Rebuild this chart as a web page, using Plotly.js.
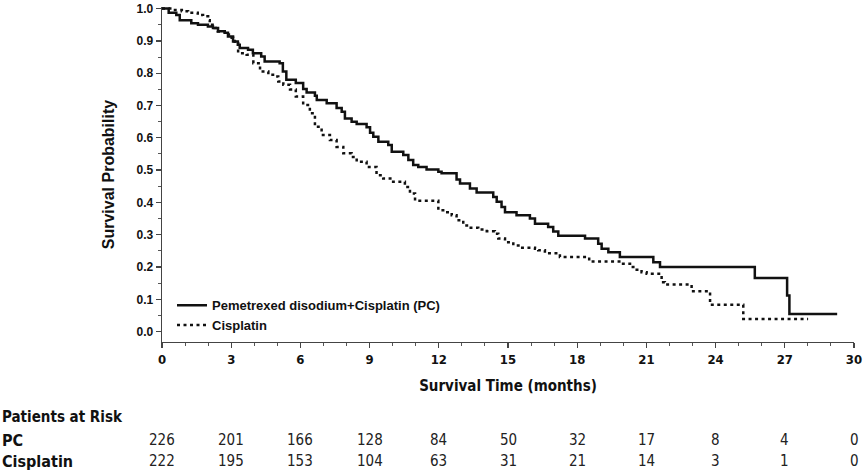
<!DOCTYPE html>
<html>
<head>
<meta charset="utf-8">
<script src="https://cdn.plot.ly/plotly-3.0.1.min.js"></script>
<style>
  html, body { margin: 0; padding: 0; background: #fff; }
  #chart { width: 865px; height: 472px; }
</style>
</head>
<body>
<div id="chart"></div>
<script>
// Kaplan-Meier step points (time in months, survival after the step)
const pcTime = [0, 0.29, 0.62, 0.77, 1.27, 1.56, 1.99, 2.21, 2.43, 2.72, 2.86, 3.08, 3.29, 3.37, 3.73, 3.94, 4.30, 4.45, 5.10, 5.24, 5.39, 5.80, 6.12, 6.27, 6.63, 6.71, 7.14, 7.57, 7.79, 7.93, 8.22, 8.44, 8.87, 9.02, 9.16, 9.38, 9.81, 9.96, 10.46, 10.68, 10.89, 11.11, 11.47, 11.98, 12.12, 12.77, 12.92, 13.35, 13.64, 14.36, 14.51, 14.72, 14.87, 15.37, 15.95, 16.17, 16.74, 16.96, 17.18, 18.34, 18.91, 19.06, 19.35, 19.85, 21.30, 21.59, 25.70, 27.10, 27.20, 29.27];
const pcSurv = [1.0, 0.987, 0.980, 0.964, 0.955, 0.950, 0.945, 0.940, 0.930, 0.925, 0.914, 0.898, 0.888, 0.878, 0.873, 0.862, 0.852, 0.836, 0.831, 0.805, 0.780, 0.770, 0.751, 0.740, 0.730, 0.717, 0.707, 0.692, 0.681, 0.660, 0.650, 0.643, 0.633, 0.616, 0.603, 0.588, 0.578, 0.557, 0.547, 0.531, 0.516, 0.510, 0.502, 0.495, 0.490, 0.471, 0.459, 0.443, 0.431, 0.417, 0.402, 0.386, 0.370, 0.360, 0.350, 0.334, 0.324, 0.310, 0.297, 0.288, 0.272, 0.257, 0.246, 0.231, 0.215, 0.200, 0.166, 0.112, 0.055, 0.055];

const cisTime = [0, 0.42, 0.86, 1.13, 1.55, 1.78, 2.00, 2.07, 2.28, 2.42, 2.72, 2.90, 3.08, 3.15, 3.30, 3.67, 3.96, 4.25, 4.61, 4.90, 5.04, 5.26, 5.55, 5.80, 6.12, 6.41, 6.63, 6.92, 7.28, 7.57, 7.86, 8.22, 8.44, 8.87, 9.30, 9.59, 10.02, 10.53, 10.75, 10.97, 11.98, 12.27, 12.56, 12.77, 13.06, 13.28, 13.71, 14.08, 14.43, 14.58, 14.87, 15.23, 15.52, 16.17, 16.31, 16.60, 17.25, 18.52, 19.93, 20.29, 20.58, 20.79, 21.01, 21.66, 21.80, 22.96, 23.76, 25.20, 28.01];
const cisSurv = [1.0, 0.996, 0.992, 0.987, 0.980, 0.976, 0.964, 0.950, 0.940, 0.929, 0.920, 0.910, 0.900, 0.893, 0.862, 0.857, 0.831, 0.805, 0.795, 0.790, 0.774, 0.764, 0.750, 0.728, 0.702, 0.676, 0.634, 0.609, 0.593, 0.572, 0.552, 0.541, 0.526, 0.510, 0.484, 0.474, 0.464, 0.448, 0.428, 0.405, 0.376, 0.370, 0.360, 0.345, 0.329, 0.322, 0.316, 0.311, 0.303, 0.288, 0.277, 0.267, 0.260, 0.257, 0.252, 0.243, 0.231, 0.217, 0.210, 0.200, 0.192, 0.184, 0.179, 0.153, 0.146, 0.125, 0.083, 0.039, 0.039];

// Patients at risk table
const riskTimes = [0, 3, 6, 9, 12, 15, 18, 21, 24, 27, 30];
const pcRisk = [226, 201, 166, 128, 84, 50, 32, 17, 8, 4, 0];
const cisRisk = [222, 195, 153, 104, 63, 31, 21, 14, 3, 1, 0];
const rowLabels = ['PC', 'Cisplatin'];
const seriesNames = ['Pemetrexed disodium+Cisplatin (PC)', 'Cisplatin'];

const narrow = 'Liberation Sans Narrow, DejaVu Sans Condensed, Arial Narrow, sans-serif';
const arial = 'Liberation Sans, Arial, sans-serif';
const ink = '#111111';

const traces = [
  { x: pcTime, y: pcSurv, type: 'scatter', mode: 'lines', name: seriesNames[0],
    line: { shape: 'hv', color: ink, width: 2.5 }, hoverinfo: 'skip' },
  { x: cisTime, y: cisSurv, type: 'scatter', mode: 'lines', name: seriesNames[1],
    line: { shape: 'hv', color: ink, width: 2.5, dash: '3px,3.5px' }, hoverinfo: 'skip' }
];

const L = 162, R = 11, T = 7, B = 130.3;
const W = 865, H = 472;
const plotH = H - T - B, plotW = W - L - R;
const py = p => (H - B - p) / plotH;   // pixel y -> paper y
const px = p => (p - L) / plotW;       // pixel x -> paper x

const annotations = [];
annotations.push({ text: 'Patients at Risk', xref: 'paper', yref: 'paper', x: px(0), y: py(417),
  xanchor: 'left', yanchor: 'middle', showarrow: false,
  font: { family: narrow, size: 15, color: ink, weight: 'bold' } });
[pcRisk, cisRisk].forEach((row, r) => {
  const yy = py(r === 0 ? 440 : 461);
  annotations.push({ text: rowLabels[r], xref: 'paper', yref: 'paper', x: px(0), y: yy,
    xanchor: 'left', yanchor: 'middle', showarrow: false,
    font: { family: narrow, size: 16, color: ink, weight: 'bold' } });
  row.forEach((v, i) => {
    annotations.push({ text: String(v), xref: 'x', yref: 'paper', x: riskTimes[i], y: yy,
      xanchor: 'center', yanchor: 'middle', showarrow: false,
      font: { family: narrow, size: 15, color: '#222' } });
  });
});

const layout = {
  width: W, height: H,
  margin: { l: L, r: R, t: T, b: B, pad: 0 },
  paper_bgcolor: '#fff', plot_bgcolor: '#fff',
  showlegend: true,
  legend: { x: px(172), y: py(290), xanchor: 'left', yanchor: 'top',
    bgcolor: 'rgba(0,0,0,0)', borderwidth: 0, itemwidth: 30, tracegroupgap: 0,
    font: { family: arial, size: 13, color: ink, weight: 'bold' } },
  xaxis: {
    range: [0, 30], tickmode: 'array', tickvals: riskTimes, ticktext: riskTimes.map(String),
    showgrid: false, zeroline: false, showline: true, linecolor: '#444', linewidth: 1.3,
    ticks: 'outside', ticklen: 5, tickwidth: 1.3, tickcolor: '#444',
    minor: { dtick: 1, tick0: 0, ticks: 'outside', ticklen: 3, tickwidth: 1, tickcolor: '#555', showgrid: false },
    tickfont: { family: narrow, size: 13, color: ink, weight: 'bold' },
    title: { text: 'Survival Time (months)', standoff: 14,
      font: { family: narrow, size: 15, color: ink, weight: 'bold' } },
    fixedrange: true
  },
  yaxis: {
    range: [-0.032, 1.005], tick0: 0, dtick: 0.1, tickformat: '.1f',
    showgrid: false, zeroline: false, showline: true, linecolor: '#444', linewidth: 1.3,
    ticks: 'outside', ticklen: 5, tickwidth: 1.3, tickcolor: '#444',
    minor: { dtick: 0.05, tick0: 0, ticks: 'outside', ticklen: 3, tickwidth: 1, tickcolor: '#555', showgrid: false },
    tickfont: { family: arial, size: 12, color: ink, weight: 'bold' },
    title: { text: 'Survival Probability', standoff: 18,
      font: { family: arial, size: 16, color: ink, weight: 'bold' } },
    fixedrange: true
  },
  annotations: annotations
};

Plotly.newPlot('chart', traces, layout, { displayModeBar: false, staticPlot: true });
</script>
</body>
</html>
